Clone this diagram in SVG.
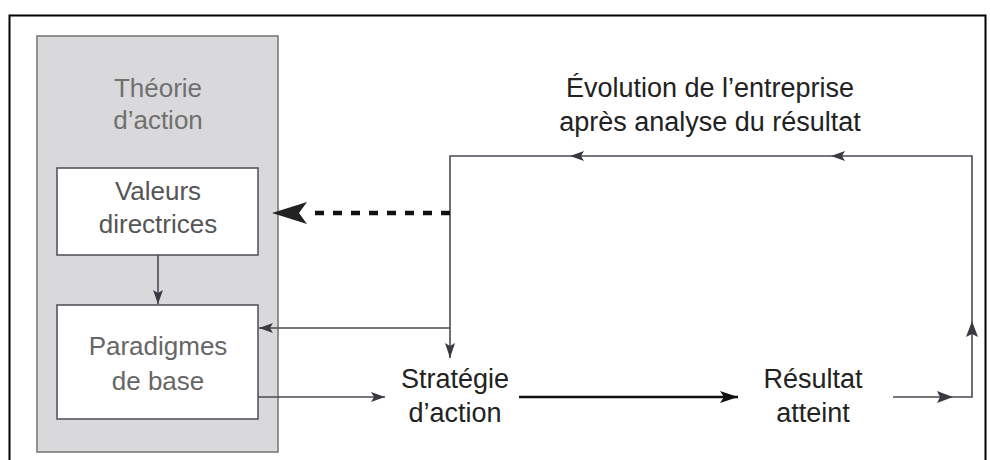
<svg xmlns="http://www.w3.org/2000/svg" width="990" height="460" viewBox="0 0 990 460">
<defs>
<style>
.t{font-family:"Liberation Sans",Arial,sans-serif;text-anchor:middle}
.ln{fill:none;stroke:#4a4a52;stroke-width:1.6}
</style>
<marker id="a" viewBox="0 0 14 10" refX="14" refY="5" markerWidth="14" markerHeight="10" markerUnits="userSpaceOnUse" orient="auto"><path d="M0,0 L14,5 L0,10 L3,5 Z" fill="#3a3a42"/></marker>
<marker id="ab" viewBox="0 0 18 12" refX="18" refY="6" markerWidth="18" markerHeight="12" markerUnits="userSpaceOnUse" orient="auto"><path d="M0,0 L18,6 L0,12 L4,6 Z" fill="#111"/></marker>
</defs>
<rect width="990" height="460" fill="#fff"/>
<path d="M9.5,460 V15.5 H985.5 V460" fill="none" stroke="#000" stroke-width="2"/>
<g id="theorie">
<rect x="37" y="36" width="241" height="416" fill="#d9d9db" stroke="#7a7a7a" stroke-width="1.6"/>
<text class="t" x="158" y="97" font-size="26" fill="#707070">Théorie</text>
<text class="t" x="158" y="129" font-size="26" fill="#707070">d’action</text>
</g>
<g id="valeurs">
<rect x="57" y="168" width="201" height="87" fill="#fff" stroke="#55555f" stroke-width="1.6"/>
<text class="t" x="158" y="200" font-size="26" fill="#555">Valeurs</text>
<text class="t" x="158" y="233" font-size="26" fill="#555">directrices</text>
</g>
<g id="paradigmes">
<rect x="57" y="305" width="201" height="114" fill="#fff" stroke="#55555f" stroke-width="1.6"/>
<text class="t" x="158" y="355" font-size="26" fill="#666">Paradigmes</text>
<text class="t" x="158" y="390" font-size="26" fill="#666">de base</text>
</g>
<g id="strategie">
<text class="t" x="455" y="388" font-size="27" fill="#222">Stratégie</text>
<text class="t" x="455" y="422" font-size="27" fill="#222">d’action</text>
</g>
<g id="resultat">
<text class="t" x="813" y="388" font-size="27" fill="#222">Résultat</text>
<text class="t" x="813" y="422" font-size="27" fill="#222">atteint</text>
</g>
<g id="evolution">
<text class="t" x="710" y="97" font-size="27" fill="#222">Évolution de l’entreprise</text>
<text class="t" x="710" y="131" font-size="27" fill="#222">après analyse du résultat</text>
</g>
<g id="connectors">
<line class="ln" x1="158" y1="255" x2="158" y2="304" marker-end="url(#a)"/>
<line class="ln" x1="258" y1="397" x2="385" y2="397" marker-end="url(#a)"/>
<line x1="519" y1="397" x2="738" y2="397" stroke="#111" stroke-width="2.6" marker-end="url(#ab)"/>
<path class="ln" d="M893,397 H972 V156 H450 V358" marker-mid="none"/>
<path d="M937,391 L953,397 L937,403 L940,397 Z" fill="#3a3a42"/>
<path d="M966,337 L972,321 L978,337 L972,334 Z" fill="#3a3a42"/>
<path d="M845,151 L831,156 L845,161 L842,156 Z" fill="#3a3a42"/>
<path d="M584,151 L570,156 L584,161 L581,156 Z" fill="#3a3a42"/>
<path d="M445,343 L450,358 L455,343 L450,346 Z" fill="#3a3a42"/>
<line class="ln" x1="450" y1="328" x2="259" y2="328" marker-end="url(#a)"/>
<line x1="450" y1="213" x2="313" y2="213" stroke="#111" stroke-width="4.5" stroke-dasharray="9 9"/>
<path d="M307,202 L272,213 L307,224 L299,213 Z" fill="#222"/>
</g>
</svg>
